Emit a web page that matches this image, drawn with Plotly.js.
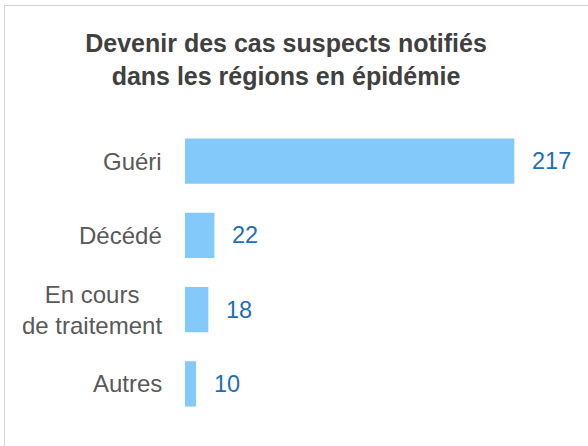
<!DOCTYPE html>
<html>
<head>
<meta charset="utf-8">
<script src="https://cdn.plot.ly/plotly-3.0.1.min.js"></script>
<style>
  html, body { margin: 0; padding: 0; background: #ffffff; }
  #wrap { position: relative; width: 588px; height: 446px; overflow: hidden; }
  #chart { position: absolute; left: 0; top: 0; width: 588px; height: 446px; }
  #frame { position: absolute; left: 4px; top: 5px; width: 600px; height: 460px;
           border-left: 1px solid #d4d4d4; border-top: 1px solid #d4d4d4; pointer-events: none; }
</style>
</head>
<body>
<div id="wrap">
  <div id="chart"></div>
  <div id="frame"></div>
</div>
<script>
const categories = ['Guéri', 'Décédé', 'En cours<br>de traitement', 'Autres'];
const values = [217, 22, 18, 10];
const titleText = 'Devenir des cas suspects notifiés<br>dans les régions en épidémie';

const FONT = 'Liberation Sans, Arial, Helvetica, sans-serif';
const barColor = '#83CAFB';
const valueColor = '#1F6EB4';
const labelColor = '#595959';

const trace = {
  type: 'bar',
  orientation: 'h',
  x: values,
  y: categories,
  marker: { color: barColor, line: { width: 0 } },
  hoverinfo: 'skip'
};

const annotations = [];
categories.forEach((c, i) => {
  annotations.push({
    xref: 'paper', yref: 'y', x: 0, y: c,
    xanchor: 'right', yanchor: 'middle', xshift: -21,
    text: c, showarrow: false, align: 'center',
    font: { family: FONT, size: 24, color: labelColor }
  });
  annotations.push({
    xref: 'x', yref: 'y', x: values[i], y: c,
    xanchor: 'left', yanchor: 'middle', xshift: 16,
    text: String(values[i]), showarrow: false,
    font: { family: FONT, size: 23.5, color: valueColor }
  });
});

const layout = {
  width: 588, height: 446,
  margin: { l: 185, r: 28, t: 124, b: 25 },
  paper_bgcolor: '#ffffff', plot_bgcolor: '#ffffff',
  showlegend: false,
  bargap: 0.39,
  title: {
    text: titleText,
    font: { family: FONT, size: 25, color: '#404040', weight: 'bold' },
    xref: 'container', yref: 'container',
    x: 286 / 588, xanchor: 'center',
    y: 1 - 52 / 446, yanchor: 'top'
  },
  xaxis: {
    range: [2.85, 246.7],
    showgrid: false, zeroline: false, showline: false,
    showticklabels: false, ticks: '', fixedrange: true
  },
  yaxis: {
    type: 'category',
    categoryorder: 'array', categoryarray: categories,
    autorange: 'reversed',
    showgrid: false, zeroline: false, showline: false,
    showticklabels: false, ticks: '', fixedrange: true
  },
  annotations: annotations
};

Plotly.newPlot('chart', [trace], layout, { displayModeBar: false, staticPlot: true });
</script>
</body>
</html>
